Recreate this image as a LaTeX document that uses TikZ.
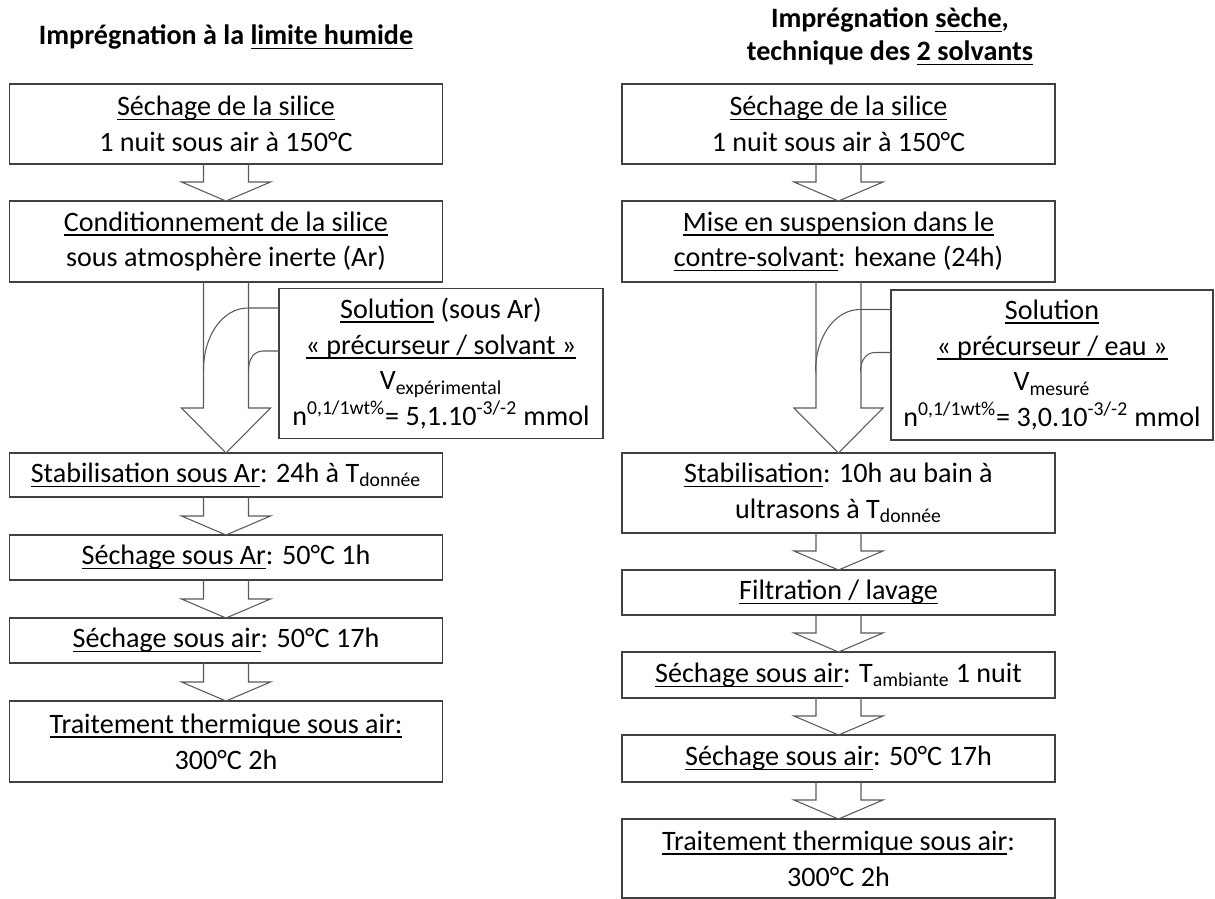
\documentclass[tikz,border=0pt]{standalone}
\usepackage{fontspec}
\setmainfont{Carlito}
\usetikzlibrary{calc}
\definecolor{bGray}{HTML}{404040}
\definecolor{aGray}{HTML}{595959}

\newcommand{\souligne}[1]{\setbox0\hbox{#1}\rlap{\rule[-2.6pt]{\wd0}{0.75pt}}\box0\relax}
% hollow block arrow between two steps, optional head length (px)
\newcommand{\hollowarrow}[3][19]{%
  \draw[arrowline] ($(#2.south)+(-22.5,0)$) -- ($(#3.north)+(-22.5,-#1)$)
    -- ($(#3.north)+(-44.5,-#1)$) -- (#3.north)
    -- ($(#3.north)+(44.5,-#1)$) -- ($(#3.north)+(22.5,-#1)$)
    -- ($(#2.south)+(22.5,0)$);}
% bent feed from the solution box into the big arrow
\newcommand{\feedcurve}[1]{%
  \draw[arrowline] ($(#1.west)+(0,-55.5)$) -- ++(-31,0)
    .. controls +(-25,0) and +(0,-35) .. ($(#1.west)+(-75.5,6.5)$);
  \draw[arrowline] ($(#1.west)+(0,-12.5)$) -- ++(-16,0)
    .. controls +(-9,0) and +(0,-11) .. ($(#1.west)+(-30.5,6.5)$);}

\begin{document}
\begin{tikzpicture}[
  x=0.02cm, y=-0.02cm,
  every node/.style={font=\fontsize{16}{20.4}\selectfont},
  etape/.style={draw=bGray, line width=0.75pt, minimum width=8.66cm,
                inner sep=0pt, outer sep=0pt, align=center},
  sol/.style={etape, minimum height=3cm},
  titre/.style={font=\bfseries\fontsize{16}{18.7}\selectfont, align=center},
  arrowline/.style={draw=aGray, line width=0.6pt},
]
  \useasboundingbox (0,0) rectangle (1215,899);

  % Limite humide
  \node[titre] (tL) at (226,37) {Imprégnation à la \souligne{limite humide}};
  \node[etape, minimum height=1.6cm] (L1) at (226,124)
    {\souligne{Séchage de la silice}\\1 nuit sous air à 150°C};
  \node[etape, minimum height=1.62cm] (L2) at (226,241.5)
    {\souligne{Conditionnement de la silice}\\sous atmosphère inerte (Ar)};
  \node[sol, minimum width=6.48cm] (SL) at (441,363.5)
    {\souligne{Solution} (sous Ar)\\\souligne{«~précurseur / solvant~»}\\
     V\textsubscript{expérimental}\\n\textsuperscript{0,1/1wt\%}= 5,1.10\textsuperscript{-3/-2} mmol};
  \node[etape, minimum height=0.88cm] (L3) at (226,475)
    {\souligne{Stabilisation sous Ar}: 24h à T\textsubscript{donnée}};
  \node[etape, minimum height=0.9cm] (L4) at (226,557.5)
    {\souligne{Séchage sous Ar}: 50°C 1h};
  \node[etape, minimum height=0.9cm] (L5) at (226,640.5)
    {\souligne{Séchage sous air}: 50°C 17h};
  \node[etape, minimum height=1.62cm] (L6) at (226,741.5)
    {\souligne{Traitement thermique sous air:}\\300°C 2h};

  \hollowarrow{L1}{L2}
  \hollowarrow[45]{L2}{L3}
  \feedcurve{SL}
  \hollowarrow{L3}{L4}
  \hollowarrow{L4}{L5}
  \hollowarrow{L5}{L6}

  % 2 solvants
  \node[titre] (tR) at (890,36.5)
    {Imprégnation \souligne{sèche},\\technique des \souligne{2 solvants}};
  \node[etape, minimum height=1.6cm] (R1) at (838.5,124)
    {\souligne{Séchage de la silice}\\1 nuit sous air à 150°C};
  \node[etape, minimum height=1.62cm] (R2) at (838.5,241.5)
    {\souligne{Mise en suspension dans le}\\\souligne{contre-solvant}: hexane (24h)};
  \node[sol, minimum width=6.44cm] (SR) at (1052,365)
    {\souligne{Solution}\\\souligne{«~précurseur / eau~»}\\
     V\textsubscript{mesuré}\\n\textsuperscript{0,1/1wt\%}= 3,0.10\textsuperscript{-3/-2} mmol};
  \node[etape, minimum height=1.6cm] (R3) at (838.5,493)
    {\souligne{Stabilisation}: 10h au bain à\\ultrasons à T\textsubscript{donnée}};
  \node[etape, minimum height=0.9cm] (R4) at (838.5,592.5)
    {\souligne{Filtration / lavage}};
  \node[etape, minimum height=0.92cm] (R5) at (838.5,675)
    {\souligne{Séchage sous air}: T\textsubscript{ambiante} 1 nuit};
  \node[etape, minimum height=0.94cm] (R6) at (838.5,758.5)
    {\souligne{Séchage sous air}: 50°C 17h};
  \node[etape, minimum height=1.58cm] (R7) at (838.5,858.5)
    {\souligne{Traitement thermique sous air}:\\300°C 2h};

  \hollowarrow{R1}{R2}
  \hollowarrow[45]{R2}{R3}
  \feedcurve{SR}
  \hollowarrow{R3}{R4}
  \hollowarrow{R4}{R5}
  \hollowarrow{R5}{R6}
  \hollowarrow{R6}{R7}
\end{tikzpicture}
\end{document}
